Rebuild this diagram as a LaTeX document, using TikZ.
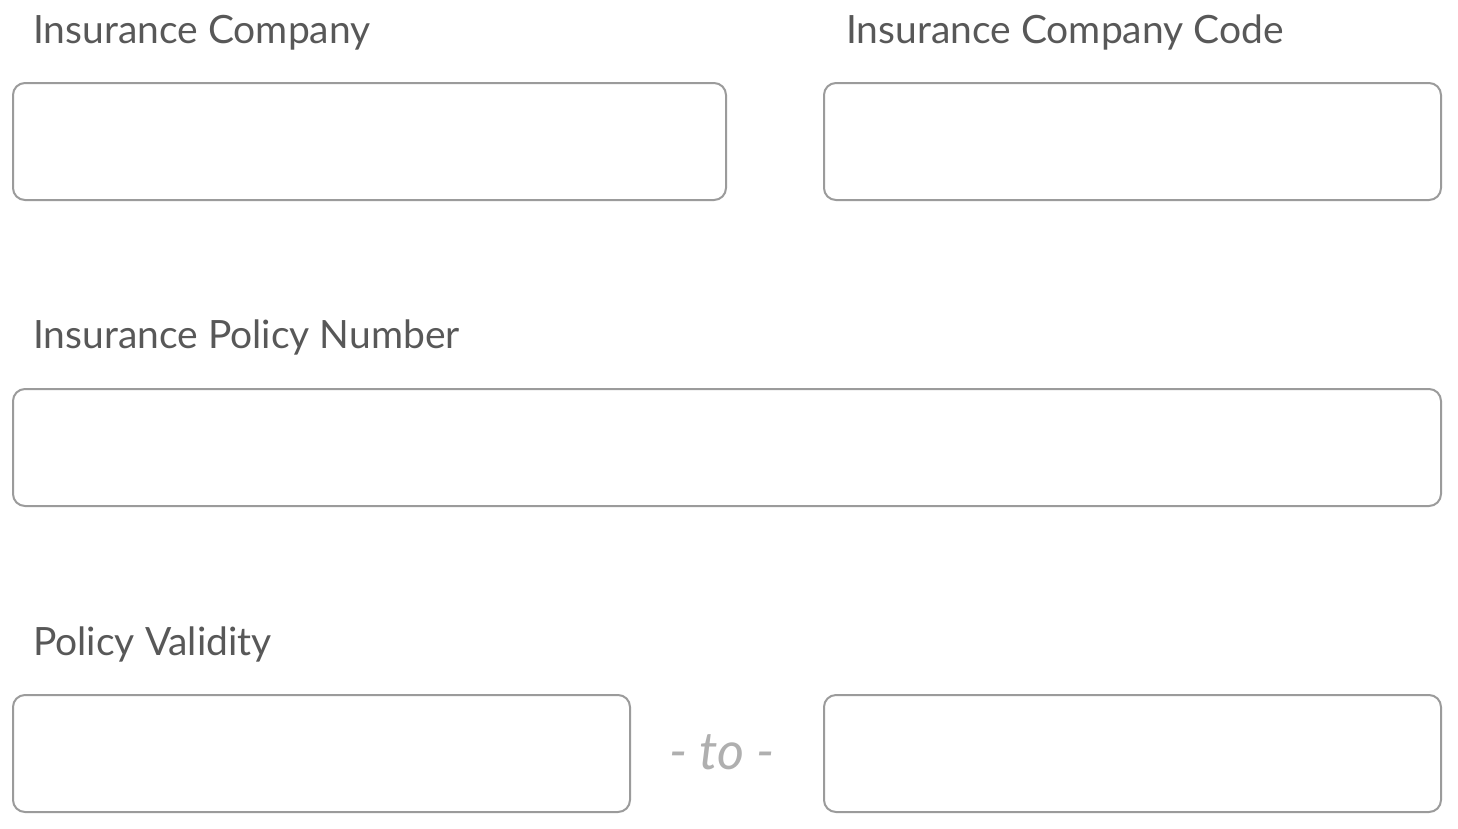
\documentclass[tikz,border=0pt]{standalone}
\usepackage{fontspec}
\setmainfont{Lato}
\usepackage{tikz}
\usetikzlibrary{positioning}
\definecolor{labelgris}{RGB}{88,88,88}
\definecolor{bordegris}{RGB}{155,155,155}
\definecolor{togris}{RGB}{175,175,175}
\tikzset{campo/.style={draw=bordegris, line width=2pt, rounded corners=12pt, inner sep=0pt, outer sep=0pt, anchor=north west, minimum height=117pt},
  etiqueta/.style={anchor=base west, inner sep=0pt, text=labelgris, font=\fontsize{39}{47}\selectfont}}
\begin{document}
\begin{tikzpicture}[x=1pt, y=-1pt]
			\useasboundingbox (0,0) rectangle (1458,828);
			% first row
			\node[etiqueta] (lblcompany) at (33,43) {Insurance Company};
			\node[etiqueta] (lblcode) at (846,43) {Insurance Company Code};
			\node[campo, minimum width=713pt] (company) at (13,83) {};
			\node[campo, minimum width=617pt] (code) at (824,83) {};

			% policy number
			\node[etiqueta] (lblnumber) at (33,348) {Insurance Policy Number};
			\node[campo, minimum width=1428pt] (number) at (13,389) {};

			% validity
			\node[etiqueta] (lblvalidity) at (33,655) {Policy Validity};
			\node[campo, minimum width=617pt] (from) at (13,695) {};
			\node[campo, minimum width=617pt] (until) at (824,695) {};
			\node[togris, font=\fontsize{52}{60}\selectfont\itshape] (to) at (722,752) {-~to~-};
		\end{tikzpicture}
\end{document}
